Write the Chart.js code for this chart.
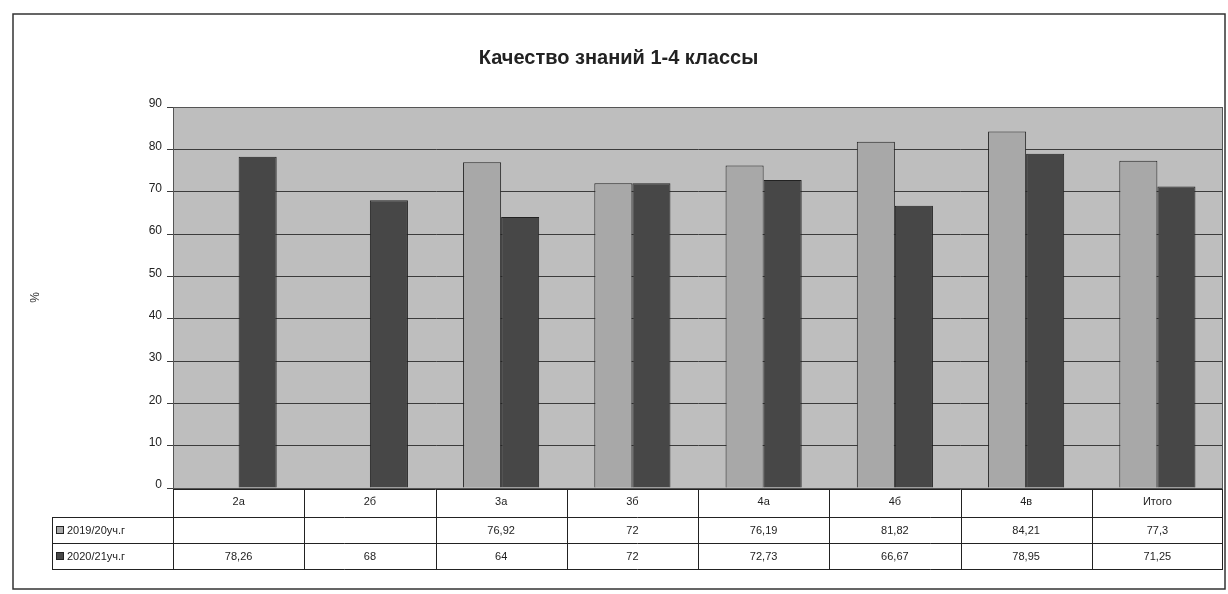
<!DOCTYPE html>
<html>
<head>
<meta charset="utf-8">
<script src="https://cdn.jsdelivr.net/npm/chart.js@4"></script>
<style>
  html, body { margin: 0; padding: 0; background: #fff; }
  #wrap { width: 1228px; height: 594px; }
</style>
</head>
<body>
<div id="wrap"><canvas id="myChart" width="1228" height="594"></canvas></div>
<script>
// Классы
var klassy = ['2а', '2б', '3а', '3б', '4а', '4б', '4в', 'Итого'];
// Названия рядов
var seriesNames = ['2019/20уч.г', '2020/21уч.г'];
// Качество знаний, %
var god2019 = [null, null, 76.92, 72, 76.19, 81.82, 84.21, 77.3];
var god2020 = [78.26, 68, 64, 72, 72.73, 66.67, 78.95, 71.25];
// Деления оси Y
var yTicks = [0, 10, 20, 30, 40, 50, 60, 70, 80, 90];

var colors = ['#a8a8a8', '#474747'];
var fontName = '"Liberation Sans", Arial, sans-serif';

function fmt(v) {
    if (v === null || v === undefined) return '';
    return String(v).replace('.', ',');
}

// фон области построения и рамка диаграммы
var fonPlugin = {
    id: 'fon',
    beforeDraw: function(chart) {
        var c = chart.ctx, a = chart.chartArea;
        c.save();
        c.fillStyle = '#bebebe';
        c.fillRect(a.left, a.top, a.right - a.left, a.bottom - a.top);
        c.strokeStyle = '#333';
        c.lineWidth = 1.5;
        c.strokeRect(13, 14, 1212, 575);
        c.restore();
    },
    afterDatasetsDraw: function(chart) {
        var c = chart.ctx, a = chart.chartArea;
        c.save();
        c.strokeStyle = '#555';
        c.lineWidth = 1;
        c.strokeRect(a.left + 0.5, a.top + 0.5, a.right - a.left - 1, a.bottom - a.top);
        c.restore();
    }
};

// таблица данных под диаграммой
var tablePlugin = {
    id: 'tablica',
    afterDraw: function(chart) {
        var c = chart.ctx, x = chart.scales.x, a = chart.chartArea;
        var n = klassy.length;
        var w = (a.right - a.left) / n;
        var top = a.bottom + 1, rh = [28, 26, 26];
        var legLeft = 52;
        var rows = [god2019, god2020];
        c.save();
        c.strokeStyle = '#222';
        c.lineWidth = 1;
        c.fillStyle = '#fff';
        c.fillRect(a.left, top, a.right - a.left, rh[0]);
        c.fillRect(legLeft, top + rh[0], a.right - legLeft, rh[1] + rh[2]);
        c.font = '11px ' + fontName;
        c.textAlign = 'center';
        c.textBaseline = 'middle';
        c.fillStyle = '#222';
        // шапка
        for (var i = 0; i < n; i++) {
            c.fillText(klassy[i], x.getPixelForValue(i), top + rh[0] / 2 - 1);
        }
        // строки рядов
        var y = top + rh[0];
        for (var r = 0; r < rows.length; r++) {
            for (var j = 0; j < n; j++) {
                c.fillStyle = '#222';
                c.fillText(fmt(rows[r][j]), x.getPixelForValue(j), y + rh[r + 1] / 2 + 1);
            }
            // легенда
            c.fillStyle = colors[r];
            c.fillRect(legLeft + 4, y + rh[r + 1] / 2 - 4, 8, 8);
            c.strokeRect(legLeft + 4.5, y + rh[r + 1] / 2 - 3.5, 7, 7);
            c.fillStyle = '#222';
            c.textAlign = 'left';
            c.fillText(seriesNames[r], legLeft + 15, y + rh[r + 1] / 2 + 1);
            c.textAlign = 'center';
            y += rh[r + 1];
        }
        // линии
        c.beginPath();
        var bottom = top + rh[0] + rh[1] + rh[2];
        c.moveTo(a.left, top + 0.5); c.lineTo(a.right, top + 0.5);
        c.moveTo(legLeft, top + rh[0] + 0.5); c.lineTo(a.right, top + rh[0] + 0.5);
        c.moveTo(legLeft, top + rh[0] + rh[1] + 0.5); c.lineTo(a.right, top + rh[0] + rh[1] + 0.5);
        c.moveTo(legLeft, bottom + 0.5); c.lineTo(a.right, bottom + 0.5);
        c.moveTo(legLeft + 0.5, top + rh[0]); c.lineTo(legLeft + 0.5, bottom);
        for (var k = 0; k <= n; k++) {
            var px = Math.round(a.left + k * w) + 0.5;
            if (k === n) px -= 1;
            c.moveTo(px, top); c.lineTo(px, bottom);
        }
        c.stroke();
        c.restore();
    }
};

var ctx = document.getElementById('myChart').getContext('2d');
var myChart = new Chart(ctx, {
    type: 'bar',
    data: {
        labels: klassy,
        datasets: [{
            label: seriesNames[0],
            data: god2019,
            backgroundColor: colors[0],
            borderColor: '#222',
            borderWidth: 1
        }, {
            label: seriesNames[1],
            data: god2020,
            backgroundColor: colors[1],
            borderColor: '#222',
            borderWidth: 1
        }]
    },
    options: {
        responsive: false,
        animation: false,
        layout: { padding: { left: 14, right: 5, top: 14, bottom: 22 } },
        categoryPercentage: 0.58,
        barPercentage: 1.0,
        plugins: {
            legend: { display: false },
            tooltip: { enabled: false },
            title: {
                display: true,
                text: 'Качество знаний 1-4 классы',
                color: '#222',
                font: { family: fontName, size: 20, weight: 'bold' },
                padding: { top: 32, bottom: 37 }
            }
        },
        scales: {
            x: {
                grid: { display: false },
                border: { display: false },
                ticks: { display: false },
                afterFit: function(s) { s.height = 84; }
            },
            y: {
                min: 0,
                max: 90,
                afterBuildTicks: function(s) {
                    s.ticks = yTicks.map(function(v) { return { value: v }; });
                },
                grid: { color: '#3c3c3c', lineWidth: 1, tickLength: 6, drawTicks: true },
                border: { display: true, color: '#333' },
                ticks: {
                    color: '#222',
                    padding: 5,
                    labelOffset: -3,
                    font: { family: fontName, size: 12 }
                },
                title: {
                    display: true,
                    text: '%',
                    color: '#333',
                    font: { family: fontName, size: 12 },
                    padding: { top: 14, bottom: 0 }
                },
                afterFit: function(s) { s.width = 159; }
            }
        }
    },
    plugins: [fonPlugin, tablePlugin]
});
</script>
</body>
</html>
